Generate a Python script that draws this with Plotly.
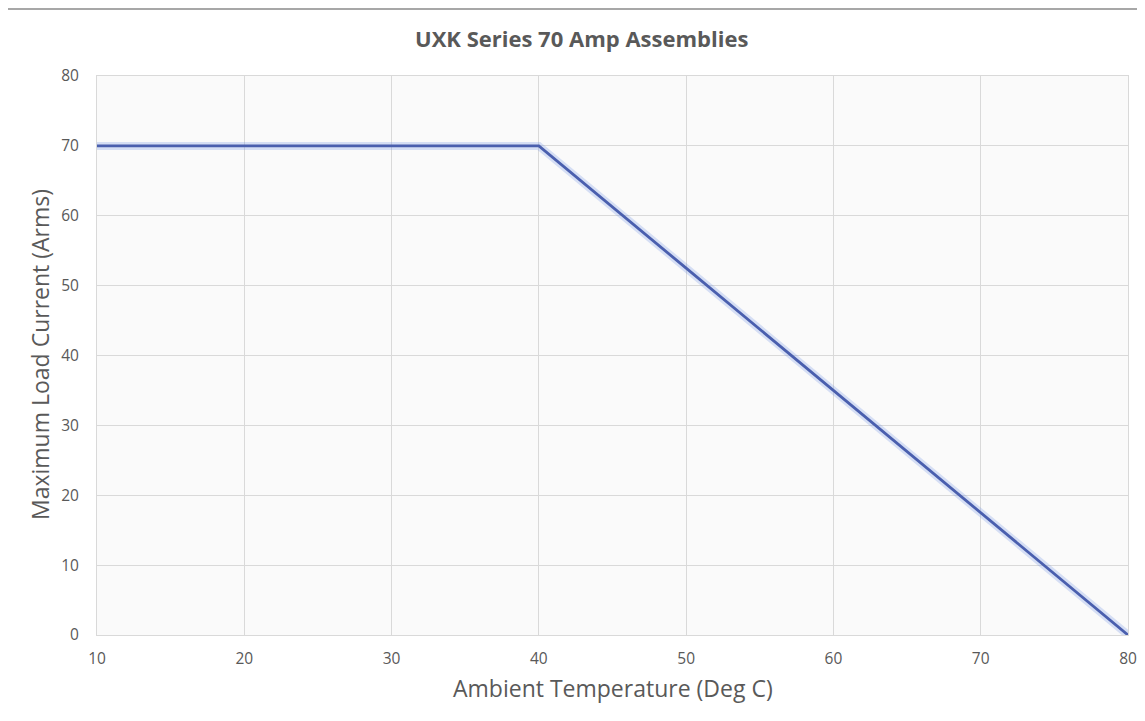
import plotly.graph_objects as go

temperature = [10, 20, 30, 40, 50, 60, 70, 80]
max_current = [70, 70, 70, 70, 52.5, 35, 17.5, 0]
x_ticks = [10, 20, 30, 40, 50, 60, 70, 80]
y_ticks = [0, 10, 20, 30, 40, 50, 60, 70, 80]

OFF = 8  # page body margin
W, H = 1145 - OFF, 721 - OFF
L, R, T, B = 97 - OFF, 1145 - 1128, 76 - OFF, 721 - 635
pw, ph = W - L - R, H - T - B

def px_x(x):
    return (x - OFF - L) / pw

def px_y(y):
    return (H - B - (y - OFF)) / ph

FONT = "Open Sans"
GREY = "#595959"

fig = go.Figure()
fig.add_trace(go.Scatter(x=temperature, y=max_current, mode="lines",
                         line=dict(color="rgba(120,150,230,0.28)", width=8),
                         hoverinfo="skip", showlegend=False))
fig.add_trace(go.Scatter(x=temperature, y=max_current, mode="lines",
                         line=dict(color="#4a5fae", width=2.8),
                         showlegend=False))

fig.update_layout(
    width=W, height=H,
    margin=dict(l=L, r=R, t=T, b=B, autoexpand=False),
    paper_bgcolor="white",
    plot_bgcolor="#fafafa",
    font=dict(family=FONT, color=GREY, size=14),
    xaxis=dict(range=[10, 80], tickvals=x_ticks, showgrid=True, gridcolor="#d9d9d9",
               gridwidth=1, zeroline=False, showline=True, linecolor="#d9d9d9", mirror=True,
               ticks="outside", ticklen=9, tickcolor="rgba(0,0,0,0)",
               tickfont=dict(size=15.5, color=GREY, family=FONT)),
    yaxis=dict(range=[0, 80], tickvals=y_ticks, showgrid=True, gridcolor="#d9d9d9",
               gridwidth=1, zeroline=False, showline=True, linecolor="#d9d9d9", mirror=True,
               ticks="outside", ticklen=14, tickcolor="rgba(0,0,0,0)",
               tickfont=dict(size=15.5, color=GREY, family=FONT)),
    annotations=[
        dict(text="<b>UXK Series 70 Amp Assemblies</b>", x=px_x(581), y=px_y(38),
             xref="paper", yref="paper", showarrow=False, xanchor="center", yanchor="middle",
             font=dict(size=22, color=GREY, family=FONT)),
        dict(text="Ambient Temperature (Deg C)", x=px_x(613), y=px_y(688),
             xref="paper", yref="paper", showarrow=False, xanchor="center", yanchor="middle",
             font=dict(size=23, color=GREY, family=FONT)),
        dict(text="Maximum Load Current (Arms)", x=px_x(40), y=px_y(355), textangle=-90,
             xref="paper", yref="paper", showarrow=False, xanchor="center", yanchor="middle",
             font=dict(size=23, color=GREY, family=FONT)),
    ],
    shapes=[
        dict(type="line", xref="paper", yref="paper", x0=px_x(7), x1=px_x(1200),
             y0=px_y(9), y1=px_y(9), line=dict(color="#8a8a8a", width=1.5)),
        dict(type="line", xref="paper", yref="paper", x0=px_x(7), x1=px_x(7),
             y0=px_y(9), y1=px_y(800), line=dict(color="#8a8a8a", width=1.5)),
    ],
)

fig.write_html("out.html")
